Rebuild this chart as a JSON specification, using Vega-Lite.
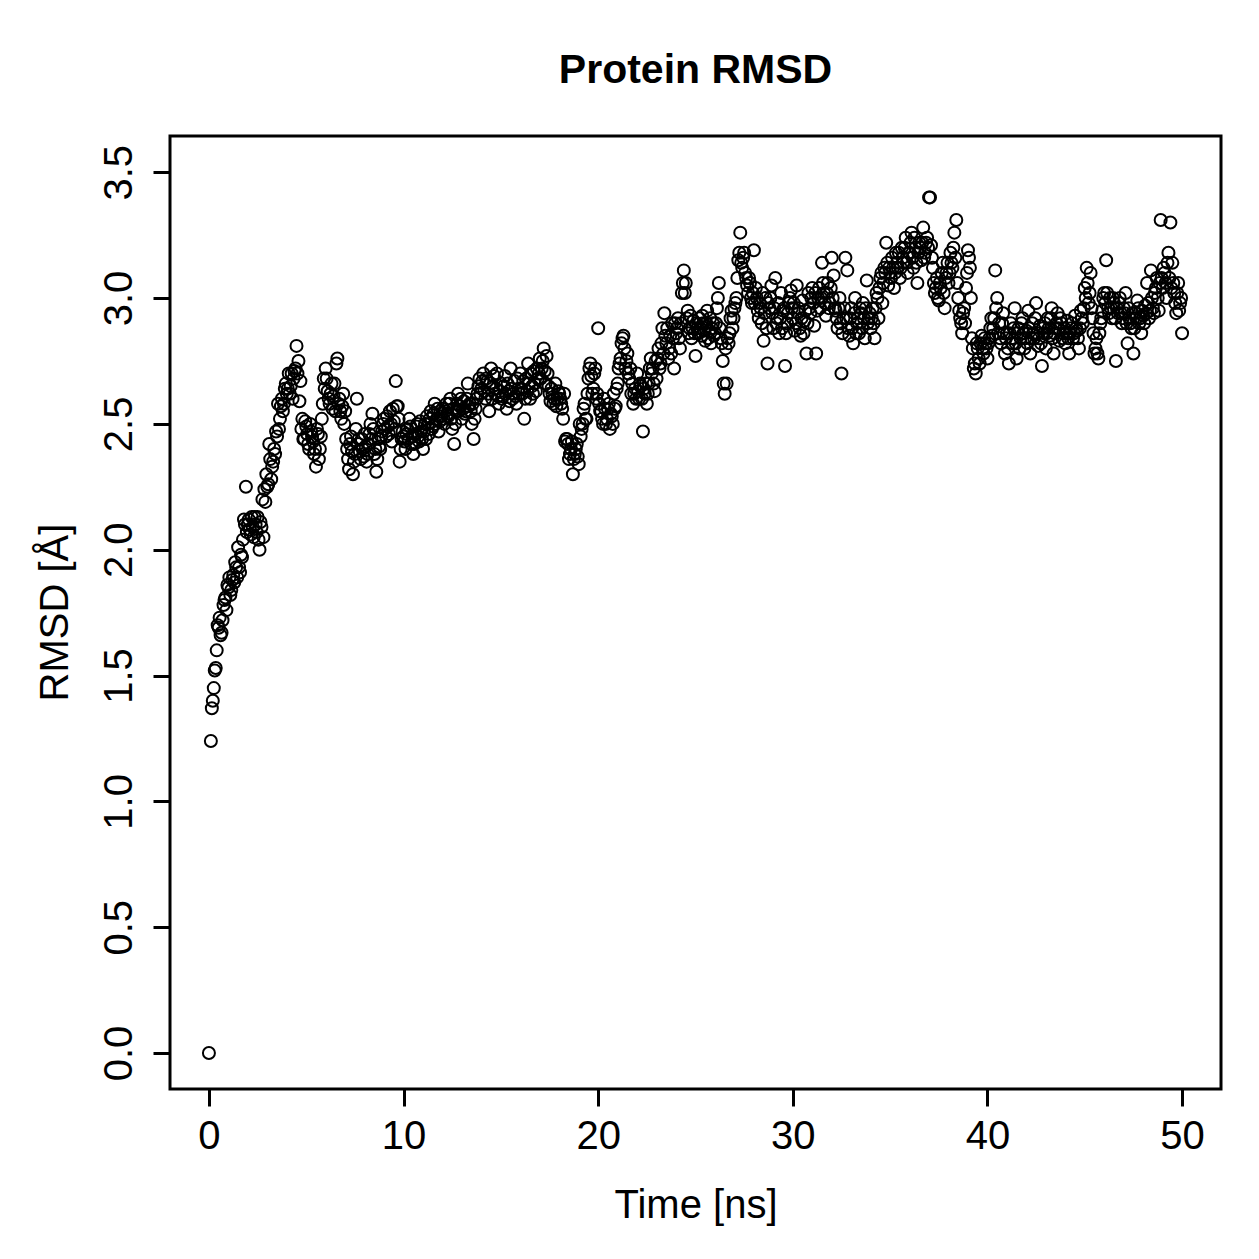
{
  "$schema": "https://vega.github.io/schema/vega-lite/v6.json",
  "autosize": {"type": "none"},
  "padding": {"left": 170, "top": 136, "right": 38, "bottom": 170},
  "width": 1051,
  "height": 953,
  "background": "white",
  "title": {"text": "Protein RMSD", "font": "Liberation Sans", "fontSize": 41, "fontWeight": "bold", "color": "black", "anchor": "middle", "baseline": "alphabetic", "offset": 12},
  "config": {
    "view": {"stroke": "black", "strokeWidth": 3},
    "axis": {"grid": false, "domain": false, "tickColor": "black", "tickWidth": 3, "tickSize": 17, "labelColor": "black", "labelFont": "Liberation Sans", "labelFontSize": 40, "titleFont": "Liberation Sans", "titleFontSize": 40, "titleFontWeight": "normal", "titleColor": "black"}
  },
  "data": {"values": [
{"t":0.0,"r":0.00},{"t":0.1,"r":1.24},{"t":0.2,"r":1.40},{"t":0.3,"r":1.52},{"t":0.4,"r":1.60},{"t":0.5,"r":1.69},{"t":0.6,"r":1.66},{"t":0.7,"r":1.72},{"t":0.8,"r":1.80},{"t":0.9,"r":1.76},
{"t":1.0,"r":1.85},{"t":1.1,"r":1.82},{"t":1.2,"r":1.88},{"t":1.3,"r":1.87},{"t":1.4,"r":1.93},{"t":1.5,"r":2.01},{"t":1.6,"r":1.91},{"t":1.7,"r":1.97},{"t":1.8,"r":2.12},{"t":1.9,"r":2.25},
{"t":2.0,"r":2.10},{"t":2.1,"r":2.08},{"t":2.2,"r":2.13},{"t":2.3,"r":2.05},{"t":2.4,"r":2.10},{"t":2.5,"r":2.13},{"t":2.6,"r":2.00},{"t":2.7,"r":2.09},{"t":2.8,"r":2.05},{"t":2.9,"r":2.19},
{"t":3.0,"r":2.25},{"t":3.1,"r":2.42},{"t":3.2,"r":2.28},{"t":3.3,"r":2.35},{"t":3.4,"r":2.38},{"t":3.5,"r":2.45},{"t":3.6,"r":2.48},{"t":3.7,"r":2.57},{"t":3.8,"r":2.55},{"t":3.9,"r":2.64},
{"t":4.0,"r":2.62},{"t":4.1,"r":2.70},{"t":4.2,"r":2.65},{"t":4.3,"r":2.60},{"t":4.4,"r":2.71},{"t":4.5,"r":2.81},{"t":4.6,"r":2.75},{"t":4.7,"r":2.67},{"t":4.8,"r":2.52},{"t":4.9,"r":2.44},
{"t":5.0,"r":2.49},{"t":5.1,"r":2.42},{"t":5.2,"r":2.50},{"t":5.3,"r":2.45},{"t":5.4,"r":2.38},{"t":5.5,"r":2.33},{"t":5.6,"r":2.46},{"t":5.7,"r":2.40},{"t":5.8,"r":2.52},{"t":5.9,"r":2.68},
{"t":6.0,"r":2.72},{"t":6.1,"r":2.63},{"t":6.2,"r":2.58},{"t":6.3,"r":2.66},{"t":6.4,"r":2.61},{"t":6.5,"r":2.55},{"t":6.6,"r":2.76},{"t":6.7,"r":2.60},{"t":6.8,"r":2.52},{"t":6.9,"r":2.62},
{"t":7.0,"r":2.55},{"t":7.1,"r":2.40},{"t":7.2,"r":2.32},{"t":7.3,"r":2.45},{"t":7.4,"r":2.30},{"t":7.5,"r":2.38},{"t":7.6,"r":2.60},{"t":7.7,"r":2.44},{"t":7.8,"r":2.36},{"t":7.9,"r":2.40},
{"t":8.0,"r":2.46},{"t":8.1,"r":2.35},{"t":8.2,"r":2.42},{"t":8.3,"r":2.50},{"t":8.4,"r":2.54},{"t":8.5,"r":2.38},{"t":8.6,"r":2.31},{"t":8.7,"r":2.44},{"t":8.8,"r":2.40},{"t":8.9,"r":2.47},
{"t":9.0,"r":2.52},{"t":9.1,"r":2.45},{"t":9.2,"r":2.49},{"t":9.3,"r":2.55},{"t":9.4,"r":2.43},{"t":9.5,"r":2.51},{"t":9.6,"r":2.67},{"t":9.7,"r":2.57},{"t":9.8,"r":2.35},{"t":9.9,"r":2.44},
{"t":10.0,"r":2.45},{"t":10.1,"r":2.40},{"t":10.2,"r":2.48},{"t":10.3,"r":2.52},{"t":10.4,"r":2.42},{"t":10.5,"r":2.38},{"t":10.6,"r":2.46},{"t":10.7,"r":2.50},{"t":10.8,"r":2.43},{"t":10.9,"r":2.47},
{"t":11.0,"r":2.40},{"t":11.1,"r":2.50},{"t":11.2,"r":2.53},{"t":11.3,"r":2.46},{"t":11.4,"r":2.55},{"t":11.5,"r":2.49},{"t":11.6,"r":2.58},{"t":11.7,"r":2.52},{"t":11.8,"r":2.47},{"t":11.9,"r":2.55},
{"t":12.0,"r":2.56},{"t":12.1,"r":2.50},{"t":12.2,"r":2.58},{"t":12.3,"r":2.53},{"t":12.4,"r":2.60},{"t":12.5,"r":2.48},{"t":12.6,"r":2.42},{"t":12.7,"r":2.55},{"t":12.8,"r":2.62},{"t":12.9,"r":2.57},
{"t":13.0,"r":2.52},{"t":13.1,"r":2.59},{"t":13.2,"r":2.55},{"t":13.3,"r":2.66},{"t":13.4,"r":2.58},{"t":13.5,"r":2.50},{"t":13.6,"r":2.44},{"t":13.7,"r":2.56},{"t":13.8,"r":2.62},{"t":13.9,"r":2.68},
{"t":14.0,"r":2.64},{"t":14.1,"r":2.70},{"t":14.2,"r":2.60},{"t":14.3,"r":2.67},{"t":14.4,"r":2.55},{"t":14.5,"r":2.72},{"t":14.6,"r":2.65},{"t":14.7,"r":2.62},{"t":14.8,"r":2.70},{"t":14.9,"r":2.58},
{"t":15.0,"r":2.66},{"t":15.1,"r":2.61},{"t":15.2,"r":2.69},{"t":15.3,"r":2.56},{"t":15.4,"r":2.63},{"t":15.5,"r":2.72},{"t":15.6,"r":2.60},{"t":15.7,"r":2.67},{"t":15.8,"r":2.58},{"t":15.9,"r":2.64},
{"t":16.0,"r":2.70},{"t":16.1,"r":2.62},{"t":16.2,"r":2.52},{"t":16.3,"r":2.68},{"t":16.4,"r":2.74},{"t":16.5,"r":2.60},{"t":16.6,"r":2.65},{"t":16.7,"r":2.71},{"t":16.8,"r":2.63},{"t":16.9,"r":2.68},
{"t":17.0,"r":2.76},{"t":17.1,"r":2.72},{"t":17.2,"r":2.80},{"t":17.3,"r":2.66},{"t":17.4,"r":2.70},{"t":17.5,"r":2.62},{"t":17.6,"r":2.64},{"t":17.7,"r":2.58},{"t":17.8,"r":2.66},{"t":17.9,"r":2.60},
{"t":18.0,"r":2.62},{"t":18.1,"r":2.58},{"t":18.2,"r":2.52},{"t":18.3,"r":2.43},{"t":18.4,"r":2.44},{"t":18.5,"r":2.36},{"t":18.6,"r":2.40},{"t":18.7,"r":2.30},{"t":18.8,"r":2.38},{"t":18.9,"r":2.42},
{"t":19.0,"r":2.34},{"t":19.1,"r":2.45},{"t":19.2,"r":2.50},{"t":19.3,"r":2.58},{"t":19.4,"r":2.52},{"t":19.5,"r":2.68},{"t":19.6,"r":2.74},{"t":19.7,"r":2.62},{"t":19.8,"r":2.70},{"t":19.9,"r":2.60},
{"t":20.0,"r":2.88},{"t":20.1,"r":2.55},{"t":20.2,"r":2.52},{"t":20.3,"r":2.60},{"t":20.4,"r":2.50},{"t":20.5,"r":2.56},{"t":20.6,"r":2.48},{"t":20.7,"r":2.53},{"t":20.8,"r":2.62},{"t":20.9,"r":2.57},
{"t":21.0,"r":2.66},{"t":21.1,"r":2.74},{"t":21.2,"r":2.82},{"t":21.3,"r":2.85},{"t":21.4,"r":2.72},{"t":21.5,"r":2.78},{"t":21.6,"r":2.68},{"t":21.7,"r":2.62},{"t":21.8,"r":2.58},{"t":21.9,"r":2.64},
{"t":22.0,"r":2.70},{"t":22.1,"r":2.60},{"t":22.2,"r":2.65},{"t":22.3,"r":2.47},{"t":22.4,"r":2.62},{"t":22.5,"r":2.58},{"t":22.6,"r":2.66},{"t":22.7,"r":2.76},{"t":22.8,"r":2.72},{"t":22.9,"r":2.63},
{"t":23.0,"r":2.68},{"t":23.1,"r":2.80},{"t":23.2,"r":2.74},{"t":23.3,"r":2.88},{"t":23.4,"r":2.94},{"t":23.5,"r":2.82},{"t":23.6,"r":2.76},{"t":23.7,"r":2.85},{"t":23.8,"r":2.90},{"t":23.9,"r":2.72},
{"t":24.0,"r":2.86},{"t":24.1,"r":2.92},{"t":24.2,"r":2.80},{"t":24.3,"r":3.02},{"t":24.4,"r":3.11},{"t":24.5,"r":3.06},{"t":24.6,"r":2.95},{"t":24.7,"r":2.88},{"t":24.8,"r":2.84},{"t":24.9,"r":2.91},
{"t":25.0,"r":2.77},{"t":25.1,"r":2.88},{"t":25.2,"r":2.92},{"t":25.3,"r":2.85},{"t":25.4,"r":2.90},{"t":25.5,"r":2.83},{"t":25.6,"r":2.95},{"t":25.7,"r":2.87},{"t":25.8,"r":2.82},{"t":25.9,"r":2.90},
{"t":26.0,"r":2.86},{"t":26.1,"r":2.96},{"t":26.2,"r":3.06},{"t":26.3,"r":2.84},{"t":26.4,"r":2.75},{"t":26.5,"r":2.62},{"t":26.6,"r":2.66},{"t":26.7,"r":2.82},{"t":26.8,"r":2.92},{"t":26.9,"r":2.88},
{"t":27.0,"r":2.96},{"t":27.1,"r":3.00},{"t":27.2,"r":3.15},{"t":27.3,"r":3.26},{"t":27.4,"r":3.12},{"t":27.5,"r":3.18},{"t":27.6,"r":3.08},{"t":27.7,"r":3.02},{"t":27.8,"r":3.06},{"t":27.9,"r":2.98},
{"t":28.0,"r":3.19},{"t":28.1,"r":3.04},{"t":28.2,"r":2.95},{"t":28.3,"r":2.98},{"t":28.4,"r":2.90},{"t":28.5,"r":2.83},{"t":28.6,"r":3.00},{"t":28.7,"r":2.74},{"t":28.8,"r":2.96},{"t":28.9,"r":3.05},
{"t":29.0,"r":2.88},{"t":29.1,"r":3.08},{"t":29.2,"r":2.92},{"t":29.3,"r":2.86},{"t":29.4,"r":3.02},{"t":29.5,"r":2.95},{"t":29.6,"r":2.73},{"t":29.7,"r":2.90},{"t":29.8,"r":2.98},{"t":29.9,"r":3.03},
{"t":30.0,"r":2.92},{"t":30.1,"r":2.87},{"t":30.2,"r":3.05},{"t":30.3,"r":2.96},{"t":30.4,"r":2.85},{"t":30.5,"r":2.99},{"t":30.6,"r":2.91},{"t":30.7,"r":2.78},{"t":30.8,"r":3.02},{"t":30.9,"r":2.94},
{"t":31.0,"r":3.04},{"t":31.1,"r":2.89},{"t":31.2,"r":2.78},{"t":31.3,"r":3.00},{"t":31.4,"r":2.96},{"t":31.5,"r":3.14},{"t":31.6,"r":3.02},{"t":31.7,"r":2.93},{"t":31.8,"r":3.06},{"t":31.9,"r":2.98},
{"t":32.0,"r":3.16},{"t":32.1,"r":3.09},{"t":32.2,"r":2.95},{"t":32.3,"r":2.88},{"t":32.4,"r":3.00},{"t":32.5,"r":2.70},{"t":32.6,"r":2.92},{"t":32.7,"r":3.16},{"t":32.8,"r":3.11},{"t":32.9,"r":2.85},
{"t":33.0,"r":2.96},{"t":33.1,"r":2.82},{"t":33.2,"r":3.00},{"t":33.3,"r":2.90},{"t":33.4,"r":2.86},{"t":33.5,"r":2.94},{"t":33.6,"r":2.98},{"t":33.7,"r":2.84},{"t":33.8,"r":3.07},{"t":33.9,"r":2.92},
{"t":34.0,"r":2.88},{"t":34.1,"r":2.96},{"t":34.2,"r":2.84},{"t":34.3,"r":3.02},{"t":34.4,"r":2.92},{"t":34.5,"r":3.08},{"t":34.6,"r":2.98},{"t":34.7,"r":3.12},{"t":34.8,"r":3.22},{"t":34.9,"r":3.05},
{"t":35.0,"r":3.10},{"t":35.1,"r":3.16},{"t":35.2,"r":3.04},{"t":35.3,"r":3.18},{"t":35.4,"r":3.12},{"t":35.5,"r":3.08},{"t":35.6,"r":3.20},{"t":35.7,"r":3.14},{"t":35.8,"r":3.24},{"t":35.9,"r":3.10},
{"t":36.0,"r":3.18},{"t":36.1,"r":3.26},{"t":36.2,"r":3.12},{"t":36.3,"r":3.20},{"t":36.4,"r":3.06},{"t":36.5,"r":3.22},{"t":36.6,"r":3.15},{"t":36.7,"r":3.28},{"t":36.8,"r":3.18},{"t":36.9,"r":3.24},
{"t":37.0,"r":3.40},{"t":37.1,"r":3.21},{"t":37.2,"r":3.12},{"t":37.3,"r":3.02},{"t":37.4,"r":3.08},{"t":37.5,"r":2.99},{"t":37.6,"r":3.04},{"t":37.7,"r":3.14},{"t":37.8,"r":2.96},{"t":37.9,"r":3.10},
{"t":38.0,"r":3.06},{"t":38.1,"r":3.18},{"t":38.2,"r":3.12},{"t":38.3,"r":3.26},{"t":38.4,"r":3.31},{"t":38.5,"r":3.00},{"t":38.6,"r":2.92},{"t":38.7,"r":2.86},{"t":38.8,"r":2.96},{"t":38.9,"r":3.04},
{"t":39.0,"r":3.19},{"t":39.1,"r":3.12},{"t":39.2,"r":2.84},{"t":39.3,"r":2.72},{"t":39.4,"r":2.70},{"t":39.5,"r":2.80},{"t":39.6,"r":2.74},{"t":39.7,"r":2.85},{"t":39.8,"r":2.78},{"t":39.9,"r":2.82},
{"t":40.0,"r":2.76},{"t":40.1,"r":2.84},{"t":40.2,"r":2.92},{"t":40.3,"r":2.88},{"t":40.4,"r":3.11},{"t":40.5,"r":3.00},{"t":40.6,"r":2.90},{"t":40.7,"r":2.82},{"t":40.8,"r":2.94},{"t":40.9,"r":2.78},
{"t":41.0,"r":2.86},{"t":41.1,"r":2.74},{"t":41.2,"r":2.90},{"t":41.3,"r":2.82},{"t":41.4,"r":2.96},{"t":41.5,"r":2.76},{"t":41.6,"r":2.88},{"t":41.7,"r":2.84},{"t":41.8,"r":2.92},{"t":41.9,"r":2.80},
{"t":42.0,"r":2.87},{"t":42.1,"r":2.95},{"t":42.2,"r":2.78},{"t":42.3,"r":2.90},{"t":42.4,"r":2.84},{"t":42.5,"r":2.98},{"t":42.6,"r":2.81},{"t":42.7,"r":2.89},{"t":42.8,"r":2.73},{"t":42.9,"r":2.86},
{"t":43.0,"r":2.80},{"t":43.1,"r":2.92},{"t":43.2,"r":2.85},{"t":43.3,"r":2.96},{"t":43.4,"r":2.78},{"t":43.5,"r":2.88},{"t":43.6,"r":2.94},{"t":43.7,"r":2.83},{"t":43.8,"r":2.90},{"t":43.9,"r":2.86},
{"t":44.0,"r":2.82},{"t":44.1,"r":2.91},{"t":44.2,"r":2.78},{"t":44.3,"r":2.88},{"t":44.4,"r":2.84},{"t":44.5,"r":2.93},{"t":44.6,"r":2.87},{"t":44.7,"r":2.80},{"t":44.8,"r":2.95},{"t":44.9,"r":2.90},
{"t":45.0,"r":3.04},{"t":45.1,"r":3.12},{"t":45.2,"r":2.98},{"t":45.3,"r":3.10},{"t":45.4,"r":2.92},{"t":45.5,"r":2.78},{"t":45.6,"r":2.84},{"t":45.7,"r":2.76},{"t":45.8,"r":2.90},{"t":45.9,"r":2.95},
{"t":46.0,"r":3.02},{"t":46.1,"r":3.15},{"t":46.2,"r":2.96},{"t":46.3,"r":3.00},{"t":46.4,"r":2.92},{"t":46.5,"r":2.98},{"t":46.6,"r":2.75},{"t":46.7,"r":2.94},{"t":46.8,"r":3.00},{"t":46.9,"r":2.90},
{"t":47.0,"r":2.96},{"t":47.1,"r":3.02},{"t":47.2,"r":2.82},{"t":47.3,"r":2.92},{"t":47.4,"r":2.88},{"t":47.5,"r":2.78},{"t":47.6,"r":2.94},{"t":47.7,"r":2.99},{"t":47.8,"r":2.90},{"t":47.9,"r":2.86},
{"t":48.0,"r":2.93},{"t":48.1,"r":2.97},{"t":48.2,"r":3.06},{"t":48.3,"r":2.92},{"t":48.4,"r":3.11},{"t":48.5,"r":2.96},{"t":48.6,"r":3.02},{"t":48.7,"r":3.08},{"t":48.8,"r":2.95},{"t":48.9,"r":3.31},
{"t":49.0,"r":3.04},{"t":49.1,"r":3.10},{"t":49.2,"r":3.00},{"t":49.3,"r":3.18},{"t":49.4,"r":3.30},{"t":49.5,"r":3.14},{"t":49.6,"r":3.02},{"t":49.7,"r":2.94},{"t":49.8,"r":3.06},{"t":49.9,"r":2.98},
{"t":50.0,"r":2.86},
{"t":0.15,"r":1.37},{"t":0.25,"r":1.45},{"t":0.35,"r":1.53},{"t":0.45,"r":1.70},{"t":0.55,"r":1.73},{"t":0.65,"r":1.67},{"t":0.75,"r":1.78},{"t":0.85,"r":1.81},{"t":0.95,"r":1.86},
{"t":1.05,"r":1.89},{"t":1.15,"r":1.84},{"t":1.25,"r":1.90},{"t":1.35,"r":1.95},{"t":1.45,"r":1.89},{"t":1.55,"r":1.93},{"t":1.65,"r":1.98},{"t":1.75,"r":2.04},{"t":1.85,"r":2.10},{"t":1.95,"r":2.07},
{"t":2.05,"r":2.12},{"t":2.15,"r":2.06},{"t":2.25,"r":2.09},{"t":2.35,"r":2.13},{"t":2.45,"r":2.07},{"t":2.55,"r":2.04},{"t":2.65,"r":2.11},{"t":2.75,"r":2.20},{"t":2.85,"r":2.24},{"t":2.95,"r":2.30},
{"t":3.05,"r":2.26},{"t":3.15,"r":2.36},{"t":3.25,"r":2.33},{"t":3.35,"r":2.40},{"t":3.45,"r":2.47},{"t":3.55,"r":2.58},{"t":3.65,"r":2.52},{"t":3.75,"r":2.60},{"t":3.85,"r":2.58},{"t":3.95,"r":2.66},
{"t":4.05,"r":2.64},{"t":4.15,"r":2.62},{"t":4.25,"r":2.70},{"t":4.35,"r":2.68},{"t":4.45,"r":2.72},{"t":4.55,"r":2.70},{"t":4.65,"r":2.59},{"t":4.75,"r":2.48},{"t":4.85,"r":2.44},{"t":4.95,"r":2.51},
{"t":5.05,"r":2.46},{"t":5.15,"r":2.40},{"t":5.25,"r":2.47},{"t":5.35,"r":2.43},{"t":5.45,"r":2.40},{"t":5.55,"r":2.48},{"t":5.65,"r":2.36},{"t":5.75,"r":2.45},{"t":5.85,"r":2.58},{"t":5.95,"r":2.64},
{"t":6.05,"r":2.68},{"t":6.15,"r":2.60},{"t":6.25,"r":2.62},{"t":6.35,"r":2.56},{"t":6.45,"r":2.66},{"t":6.55,"r":2.74},{"t":6.65,"r":2.58},{"t":6.75,"r":2.55},{"t":6.85,"r":2.57},{"t":6.95,"r":2.50},
{"t":7.05,"r":2.44},{"t":7.15,"r":2.36},{"t":7.25,"r":2.42},{"t":7.35,"r":2.39},{"t":7.45,"r":2.35},{"t":7.55,"r":2.48},{"t":7.65,"r":2.42},{"t":7.75,"r":2.39},{"t":7.85,"r":2.44},{"t":7.95,"r":2.37},
{"t":8.05,"r":2.41},{"t":8.15,"r":2.38},{"t":8.25,"r":2.46},{"t":8.35,"r":2.44},{"t":8.45,"r":2.48},{"t":8.55,"r":2.40},{"t":8.65,"r":2.36},{"t":8.75,"r":2.41},{"t":8.85,"r":2.45},{"t":8.95,"r":2.50},
{"t":9.05,"r":2.48},{"t":9.15,"r":2.53},{"t":9.25,"r":2.46},{"t":9.35,"r":2.50},{"t":9.45,"r":2.56},{"t":9.55,"r":2.48},{"t":9.65,"r":2.57},{"t":9.75,"r":2.52},{"t":9.85,"r":2.40},{"t":9.95,"r":2.47},
{"t":10.05,"r":2.43},{"t":10.15,"r":2.46},{"t":10.25,"r":2.44},{"t":10.35,"r":2.49},{"t":10.45,"r":2.45},{"t":10.55,"r":2.42},{"t":10.65,"r":2.49},{"t":10.75,"r":2.45},{"t":10.85,"r":2.51},{"t":10.95,"r":2.44},
{"t":11.05,"r":2.47},{"t":11.15,"r":2.44},{"t":11.25,"r":2.50},{"t":11.35,"r":2.52},{"t":11.45,"r":2.48},{"t":11.55,"r":2.54},{"t":11.65,"r":2.50},{"t":11.75,"r":2.56},{"t":11.85,"r":2.51},{"t":11.95,"r":2.53},
{"t":12.05,"r":2.52},{"t":12.15,"r":2.55},{"t":12.25,"r":2.54},{"t":12.35,"r":2.58},{"t":12.45,"r":2.52},{"t":12.55,"r":2.56},{"t":12.65,"r":2.50},{"t":12.75,"r":2.58},{"t":12.85,"r":2.55},{"t":12.95,"r":2.60},
{"t":13.05,"r":2.56},{"t":13.15,"r":2.54},{"t":13.25,"r":2.60},{"t":13.35,"r":2.57},{"t":13.45,"r":2.55},{"t":13.55,"r":2.58},{"t":13.65,"r":2.52},{"t":13.75,"r":2.60},{"t":13.85,"r":2.65},{"t":13.95,"r":2.62},
{"t":14.05,"r":2.67},{"t":14.15,"r":2.63},{"t":14.25,"r":2.68},{"t":14.35,"r":2.62},{"t":14.45,"r":2.66},{"t":14.55,"r":2.60},{"t":14.65,"r":2.69},{"t":14.75,"r":2.64},{"t":14.85,"r":2.61},{"t":14.95,"r":2.63},
{"t":15.05,"r":2.60},{"t":15.15,"r":2.65},{"t":15.25,"r":2.62},{"t":15.35,"r":2.66},{"t":15.45,"r":2.59},{"t":15.55,"r":2.64},{"t":15.65,"r":2.62},{"t":15.75,"r":2.61},{"t":15.85,"r":2.68},{"t":15.95,"r":2.62},
{"t":16.05,"r":2.64},{"t":16.15,"r":2.67},{"t":16.25,"r":2.60},{"t":16.35,"r":2.63},{"t":16.45,"r":2.66},{"t":16.55,"r":2.70},{"t":16.65,"r":2.62},{"t":16.75,"r":2.66},{"t":16.85,"r":2.72},{"t":16.95,"r":2.70},
{"t":17.05,"r":2.68},{"t":17.15,"r":2.75},{"t":17.25,"r":2.71},{"t":17.35,"r":2.77},{"t":17.45,"r":2.65},{"t":17.55,"r":2.59},{"t":17.65,"r":2.62},{"t":17.75,"r":2.60},{"t":17.85,"r":2.57},{"t":17.95,"r":2.63},
{"t":18.05,"r":2.60},{"t":18.15,"r":2.56},{"t":18.25,"r":2.62},{"t":18.35,"r":2.44},{"t":18.45,"r":2.42},{"t":18.55,"r":2.38},{"t":18.65,"r":2.43},{"t":18.75,"r":2.36},{"t":18.85,"r":2.40},{"t":18.95,"r":2.37},
{"t":19.05,"r":2.50},{"t":19.15,"r":2.48},{"t":19.25,"r":2.56},{"t":19.35,"r":2.52},{"t":19.45,"r":2.62},{"t":19.55,"r":2.72},{"t":19.65,"r":2.69},{"t":19.75,"r":2.64},{"t":19.85,"r":2.72},{"t":19.95,"r":2.62},
{"t":20.05,"r":2.58},{"t":20.15,"r":2.55},{"t":20.25,"r":2.50},{"t":20.35,"r":2.56},{"t":20.45,"r":2.52},{"t":20.55,"r":2.58},{"t":20.65,"r":2.54},{"t":20.75,"r":2.50},{"t":20.85,"r":2.56},{"t":20.95,"r":2.64},
{"t":21.05,"r":2.72},{"t":21.15,"r":2.76},{"t":21.25,"r":2.84},{"t":21.35,"r":2.80},{"t":21.45,"r":2.75},{"t":21.55,"r":2.70},{"t":21.65,"r":2.72},{"t":21.75,"r":2.66},{"t":21.85,"r":2.62},{"t":21.95,"r":2.60},
{"t":22.05,"r":2.63},{"t":22.15,"r":2.66},{"t":22.25,"r":2.60},{"t":22.35,"r":2.64},{"t":22.45,"r":2.66},{"t":22.55,"r":2.62},{"t":22.65,"r":2.72},{"t":22.75,"r":2.70},{"t":22.85,"r":2.66},{"t":22.95,"r":2.75},
{"t":23.05,"r":2.76},{"t":23.15,"r":2.72},{"t":23.25,"r":2.82},{"t":23.35,"r":2.78},{"t":23.45,"r":2.85},{"t":23.55,"r":2.88},{"t":23.65,"r":2.80},{"t":23.75,"r":2.78},{"t":23.85,"r":2.84},{"t":23.95,"r":2.90},
{"t":24.05,"r":2.88},{"t":24.15,"r":2.84},{"t":24.25,"r":2.90},{"t":24.35,"r":3.06},{"t":24.45,"r":3.02},{"t":24.55,"r":2.92},{"t":24.65,"r":2.86},{"t":24.75,"r":2.93},{"t":24.85,"r":2.88},{"t":24.95,"r":2.86},
{"t":25.05,"r":2.90},{"t":25.15,"r":2.86},{"t":25.25,"r":2.88},{"t":25.35,"r":2.93},{"t":25.45,"r":2.87},{"t":25.55,"r":2.90},{"t":25.65,"r":2.84},{"t":25.75,"r":2.92},{"t":25.85,"r":2.88},{"t":25.95,"r":2.85},
{"t":26.05,"r":2.90},{"t":26.15,"r":3.00},{"t":26.25,"r":2.88},{"t":26.35,"r":2.82},{"t":26.45,"r":2.66},{"t":26.55,"r":2.80},{"t":26.65,"r":2.84},{"t":26.75,"r":2.86},{"t":26.85,"r":2.95},{"t":26.95,"r":2.92},
{"t":27.05,"r":2.98},{"t":27.15,"r":3.08},{"t":27.25,"r":3.18},{"t":27.35,"r":3.14},{"t":27.45,"r":3.16},{"t":27.55,"r":3.10},{"t":27.65,"r":3.05},{"t":27.75,"r":3.08},{"t":27.85,"r":3.00},{"t":27.95,"r":3.02},
{"t":28.05,"r":2.98},{"t":28.15,"r":3.00},{"t":28.25,"r":2.92},{"t":28.35,"r":2.96},{"t":28.45,"r":3.02},{"t":28.55,"r":2.94},{"t":28.65,"r":2.88},{"t":28.75,"r":2.98},{"t":28.85,"r":3.00},{"t":28.95,"r":2.94},
{"t":29.05,"r":2.96},{"t":29.15,"r":2.90},{"t":29.25,"r":2.98},{"t":29.35,"r":2.92},{"t":29.45,"r":2.88},{"t":29.55,"r":2.96},{"t":29.65,"r":2.86},{"t":29.75,"r":2.94},{"t":29.85,"r":3.00},{"t":29.95,"r":2.96},
{"t":30.05,"r":2.98},{"t":30.15,"r":2.90},{"t":30.25,"r":2.94},{"t":30.35,"r":2.88},{"t":30.45,"r":2.92},{"t":30.55,"r":2.86},{"t":30.65,"r":2.95},{"t":30.75,"r":2.90},{"t":30.85,"r":2.96},{"t":30.95,"r":3.00},
{"t":31.05,"r":2.98},{"t":31.15,"r":3.02},{"t":31.25,"r":2.95},{"t":31.35,"r":3.04},{"t":31.45,"r":3.00},{"t":31.55,"r":3.06},{"t":31.65,"r":2.98},{"t":31.75,"r":3.02},{"t":31.85,"r":2.96},{"t":31.95,"r":3.04},
{"t":32.05,"r":3.00},{"t":32.15,"r":2.96},{"t":32.25,"r":2.92},{"t":32.35,"r":2.96},{"t":32.45,"r":2.90},{"t":32.55,"r":2.86},{"t":32.65,"r":2.96},{"t":32.75,"r":2.92},{"t":32.85,"r":2.88},{"t":32.95,"r":2.92},
{"t":33.05,"r":2.88},{"t":33.15,"r":2.94},{"t":33.25,"r":2.86},{"t":33.35,"r":2.92},{"t":33.45,"r":2.96},{"t":33.55,"r":2.88},{"t":33.65,"r":2.92},{"t":33.75,"r":2.96},{"t":33.85,"r":2.90},{"t":33.95,"r":2.94},
{"t":34.05,"r":2.92},{"t":34.15,"r":2.90},{"t":34.25,"r":2.96},{"t":34.35,"r":3.00},{"t":34.45,"r":3.04},{"t":34.55,"r":3.10},{"t":34.65,"r":3.06},{"t":34.75,"r":3.10},{"t":34.85,"r":3.14},{"t":34.95,"r":3.12},
{"t":35.05,"r":3.08},{"t":35.15,"r":3.12},{"t":35.25,"r":3.10},{"t":35.35,"r":3.14},{"t":35.45,"r":3.18},{"t":35.55,"r":3.12},{"t":35.65,"r":3.16},{"t":35.75,"r":3.20},{"t":35.85,"r":3.14},{"t":35.95,"r":3.18},
{"t":36.05,"r":3.22},{"t":36.15,"r":3.16},{"t":36.25,"r":3.24},{"t":36.35,"r":3.14},{"t":36.45,"r":3.18},{"t":36.55,"r":3.20},{"t":36.65,"r":3.22},{"t":36.75,"r":3.16},{"t":36.85,"r":3.22},{"t":36.95,"r":3.20},
{"t":37.05,"r":3.40},{"t":37.15,"r":3.16},{"t":37.25,"r":3.06},{"t":37.35,"r":3.04},{"t":37.45,"r":3.00},{"t":37.55,"r":3.06},{"t":37.65,"r":3.10},{"t":37.75,"r":3.02},{"t":37.85,"r":3.08},{"t":37.95,"r":3.14},
{"t":38.05,"r":3.10},{"t":38.15,"r":3.14},{"t":38.25,"r":3.20},{"t":38.35,"r":3.16},{"t":38.45,"r":3.06},{"t":38.55,"r":2.95},{"t":38.65,"r":2.90},{"t":38.75,"r":2.94},{"t":38.85,"r":2.90},{"t":38.95,"r":3.10},
{"t":39.05,"r":3.16},{"t":39.15,"r":3.00},{"t":39.25,"r":2.80},{"t":39.35,"r":2.74},{"t":39.45,"r":2.82},{"t":39.55,"r":2.76},{"t":39.65,"r":2.82},{"t":39.75,"r":2.80},{"t":39.85,"r":2.84},{"t":39.95,"r":2.80},
{"t":40.05,"r":2.82},{"t":40.15,"r":2.88},{"t":40.25,"r":2.85},{"t":40.35,"r":2.92},{"t":40.45,"r":2.96},{"t":40.55,"r":2.86},{"t":40.65,"r":2.84},{"t":40.75,"r":2.90},{"t":40.85,"r":2.86},{"t":40.95,"r":2.84},
{"t":41.05,"r":2.80},{"t":41.15,"r":2.86},{"t":41.25,"r":2.84},{"t":41.35,"r":2.88},{"t":41.45,"r":2.82},{"t":41.55,"r":2.86},{"t":41.65,"r":2.80},{"t":41.75,"r":2.90},{"t":41.85,"r":2.86},{"t":41.95,"r":2.84},
{"t":42.05,"r":2.82},{"t":42.15,"r":2.88},{"t":42.25,"r":2.84},{"t":42.35,"r":2.86},{"t":42.45,"r":2.92},{"t":42.55,"r":2.86},{"t":42.65,"r":2.84},{"t":42.75,"r":2.82},{"t":42.85,"r":2.88},{"t":42.95,"r":2.90},
{"t":43.05,"r":2.86},{"t":43.15,"r":2.88},{"t":43.25,"r":2.92},{"t":43.35,"r":2.84},{"t":43.45,"r":2.86},{"t":43.55,"r":2.90},{"t":43.65,"r":2.88},{"t":43.75,"r":2.92},{"t":43.85,"r":2.84},{"t":43.95,"r":2.88},
{"t":44.05,"r":2.86},{"t":44.15,"r":2.84},{"t":44.25,"r":2.86},{"t":44.35,"r":2.90},{"t":44.45,"r":2.86},{"t":44.55,"r":2.88},{"t":44.65,"r":2.84},{"t":44.75,"r":2.88},{"t":44.85,"r":2.92},{"t":44.95,"r":2.96},
{"t":45.05,"r":3.00},{"t":45.15,"r":3.06},{"t":45.25,"r":3.02},{"t":45.35,"r":2.96},{"t":45.45,"r":2.86},{"t":45.55,"r":2.80},{"t":45.65,"r":2.78},{"t":45.75,"r":2.86},{"t":45.85,"r":2.92},{"t":45.95,"r":3.00},
{"t":46.05,"r":2.98},{"t":46.15,"r":3.02},{"t":46.25,"r":2.94},{"t":46.35,"r":2.96},{"t":46.45,"r":3.00},{"t":46.55,"r":2.92},{"t":46.65,"r":2.96},{"t":46.75,"r":2.98},{"t":46.85,"r":2.94},{"t":46.95,"r":2.92},
{"t":47.05,"r":2.94},{"t":47.15,"r":2.90},{"t":47.25,"r":2.96},{"t":47.35,"r":2.90},{"t":47.45,"r":2.94},{"t":47.55,"r":2.88},{"t":47.65,"r":2.92},{"t":47.75,"r":2.96},{"t":47.85,"r":2.92},{"t":47.95,"r":2.95},
{"t":48.05,"r":2.90},{"t":48.15,"r":2.94},{"t":48.25,"r":2.98},{"t":48.35,"r":2.95},{"t":48.45,"r":3.00},{"t":48.55,"r":2.94},{"t":48.65,"r":3.04},{"t":48.75,"r":3.00},{"t":48.85,"r":3.06},{"t":48.95,"r":3.08},
{"t":49.05,"r":3.12},{"t":49.15,"r":3.06},{"t":49.25,"r":3.14},{"t":49.35,"r":3.08},{"t":49.45,"r":3.04},{"t":49.55,"r":3.06},{"t":49.65,"r":2.98},{"t":49.75,"r":3.02},{"t":49.85,"r":2.95},{"t":49.95,"r":3.00}
  ]},
  "mark": {"type": "point", "shape": "circle", "filled": false, "stroke": "black", "strokeWidth": 2, "size": 144, "opacity": 1},
  "encoding": {
    "x": {"field": "t", "type": "quantitative", "scale": {"domain": [-2, 52], "nice": false, "zero": false},
      "axis": {"title": "Time [ns]", "values": [0, 10, 20, 30, 40, 50], "labelPadding": 10, "labelBaseline": "top", "titleY": 128, "titleBaseline": "alphabetic"}},
    "y": {"field": "r", "type": "quantitative", "scale": {"domain": [-0.143, 3.644], "nice": false, "zero": false},
      "axis": {"title": "RMSD [Å]", "values": [0, 0.5, 1, 1.5, 2, 2.5, 3, 3.5], "format": ".1f", "labelAngle": -90, "labelAlign": "center", "labelBaseline": "alphabetic", "labelPadding": 22, "titleX": -103, "titleY": 476, "titleAngle": -90, "titleAlign": "center", "titleBaseline": "alphabetic"}}
  }
}
